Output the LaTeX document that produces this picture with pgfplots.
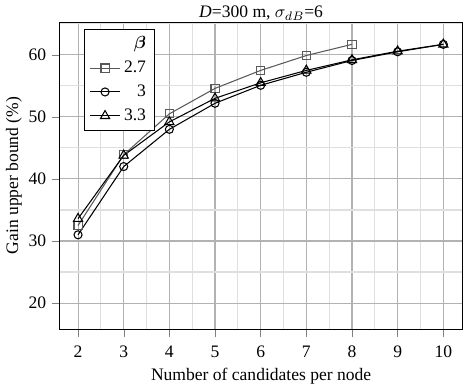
\documentclass[border=0pt]{standalone}
\usepackage{fontspec}
\setmainfont{Liberation Serif}
\usepackage{amsmath,bm}
\usepackage{pgfplots}
\pgfplotsset{compat=1.18}
\begin{document}
\begin{tikzpicture}
\begin{axis}[
  scale only axis,
  width=229.5pt, height=175pt,
  xmin=1.6, xmax=10.42, ymin=15.8, ymax=65.3,
  xtick={2,...,10}, ytick={20,30,...,60},
  minor xtick={2.5,3.5,...,9.5}, minor ytick={25,35,...,65},
  grid=both,
  major grid style={gray!60, line width=0.6pt},
  minor grid style={gray!25, line width=0.6pt},
  tick align=outside, tick pos=left,
  minor tick length=0pt,
  /pgf/number format/assume math mode=true,
  xticklabel style={yshift=-1.7pt},
  xlabel={Number of candidates per node},
  ylabel={Gain upper bound (\%)},
  xlabel style={yshift=1pt},
  ylabel style={yshift=-3pt},
  title={\textit{D}=300 m, $\sigma_{dB}$=6},
  title style={yshift=-8.5pt},
  legend cell align=right,
  legend style={at={(0.06,0.977)}, anchor=north west, draw=black, fill=white, row sep=1.5pt},
  every axis plot/.append style={line width=0.6pt},
]
\addlegendimage{empty legend}
\addlegendentry{$\boldsymbol{\beta}$}
\addplot[gray!70!black, mark=square, mark size=2.3pt, mark options={solid}] coordinates {
(2,32.5) (3,43.9) (4,50.5) (5,54.6) (6,57.5) (7,59.9) (8,61.7)};
\addlegendentry{2.7}
\addplot[black, mark=o, mark size=2.3pt] coordinates {
(2,31) (3,42) (4,48) (5,52.2) (6,55.1) (7,57.2) (8,59.1) (9,60.5) (10,61.7)};
\addlegendentry{3}
\addplot[black, mark=triangle, mark size=3pt] coordinates {
(2,33.6) (3,43.8) (4,49.2) (5,53) (6,55.5) (7,57.5) (8,59.2) (9,60.6) (10,61.7)};
\addlegendentry{3.3}
\end{axis}
\end{tikzpicture}
\end{document}
